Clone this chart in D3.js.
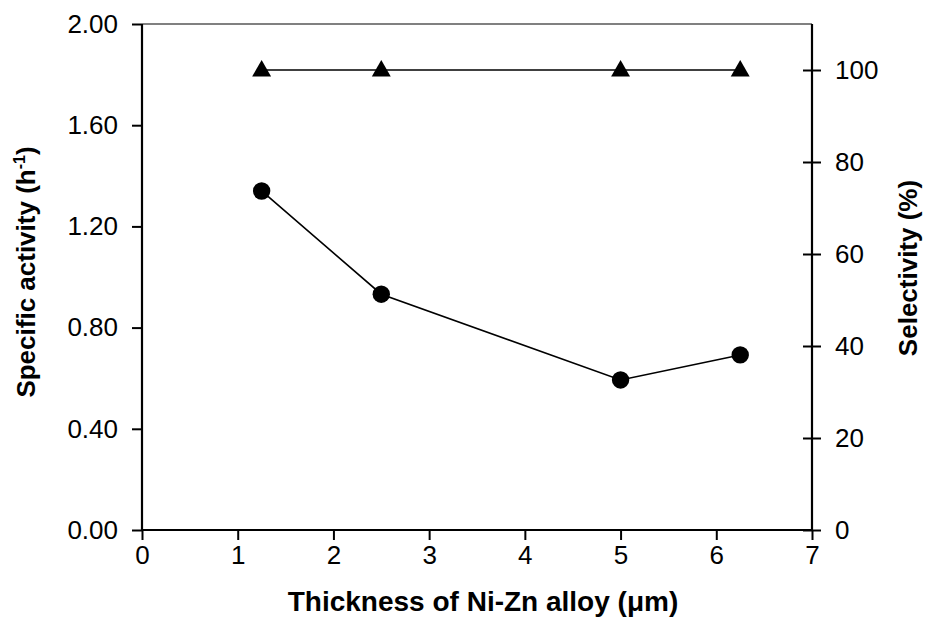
<!DOCTYPE html>
<html><head><meta charset="utf-8">
<script src="https://cdn.jsdelivr.net/npm/d3@7"></script>
<style>body{margin:0;background:#fff}</style>
</head><body>
<svg id="c" width="931" height="636"></svg>
<script>
const thickness = [1.25, 2.5, 5.0, 6.25];
const activity = [1.34, 0.932, 0.593, 0.692];
const selectivity = [100, 100, 100, 100];
const xTicks = [0,1,2,3,4,5,6,7];
const yLeftTicks = [0,0.4,0.8,1.2,1.6,2.0];
const yRightTicks = [0,20,40,60,80,100];

const svg = d3.select("#c");
const L=142, R=812, T=24, B=530;
const font = "'Liberation Sans', Arial, sans-serif";
const x = d3.scaleLinear().domain([0,7]).range([L,R]);
const yL = d3.scaleLinear().domain([0,2]).range([B,T]);
const yR = d3.scaleLinear().domain([0,110]).range([B,T]);

// top border
svg.append("line").attr("x1",L).attr("x2",R).attr("y1",T).attr("y2",T).attr("stroke","#808080").attr("stroke-width",2);

const gx = svg.append("g").attr("transform",`translate(0,${B})`)
  .call(d3.axisBottom(x).tickValues(xTicks).tickSize(10).tickPadding(6).tickFormat(d3.format("d")));
const gl = svg.append("g").attr("transform",`translate(${L},0)`)
  .call(d3.axisLeft(yL).tickValues(yLeftTicks).tickSize(10).tickPadding(14).tickFormat(d3.format(".2f")));
const gr = svg.append("g").attr("transform",`translate(${R},0)`)
  .call(d3.axisRight(yR).tickValues(yRightTicks).tickSize(9).tickPadding(14).tickFormat(d3.format("d")));
gr.selectAll(".tick line").attr("x1",-9);
[gx,gl,gr].forEach(g=>{
  g.select(".domain").attr("stroke","#000").attr("stroke-width",2.2);
  g.selectAll(".tick line").attr("stroke","#000").attr("stroke-width",2);
  g.selectAll("text").attr("font-family",font).attr("font-size",26).attr("fill","#000");
});
gx.select(".domain").attr("d",`M${L},0H${R}`);
gl.select(".domain").attr("d",`M0,${T}V${B}`);
gr.select(".domain").attr("d",`M0,${T}V${B}`);

// series lines
const lineA = d3.line().x((d,i)=>x(thickness[i])).y(d=>yL(d));
svg.append("path").datum(activity).attr("d",lineA).attr("fill","none").attr("stroke","#000").attr("stroke-width",1.6);
const lineS = d3.line().x((d,i)=>x(thickness[i])).y(d=>yR(d));
svg.append("path").datum(selectivity).attr("d",lineS).attr("fill","none").attr("stroke","#000").attr("stroke-width",1.6);

svg.selectAll("circle.a").data(activity).enter().append("circle")
  .attr("cx",(d,i)=>x(thickness[i])).attr("cy",d=>yL(d)).attr("r",8.7).attr("fill","#000");
const tri = d3.symbol().type(d3.symbolTriangle).size(155);
svg.selectAll("path.s").data(selectivity).enter().append("path")
  .attr("d",tri).attr("transform",(d,i)=>`translate(${x(thickness[i])},${yR(d)+1})`).attr("fill","#000");

// titles
svg.append("text").attr("x",483).attr("y",611).attr("text-anchor","middle")
  .attr("font-family",font).attr("font-weight","bold").attr("font-size",28)
  .text("Thickness of Ni-Zn alloy (μm)");
const lt = svg.append("text").attr("transform",`translate(35,272) rotate(-90)`).attr("text-anchor","middle")
  .attr("font-family",font).attr("font-weight","bold").attr("font-size",26);
lt.append("tspan").text("Specific activity (h");
lt.append("tspan").attr("dy",-10).attr("font-size",16).text("-1");
lt.append("tspan").attr("dy",10).text(")");
svg.append("text").attr("transform",`translate(917,268) rotate(-90)`).attr("text-anchor","middle")
  .attr("font-family",font).attr("font-weight","bold").attr("font-size",26)
  .text("Selectivity (%)");
</script>
</body></html>
